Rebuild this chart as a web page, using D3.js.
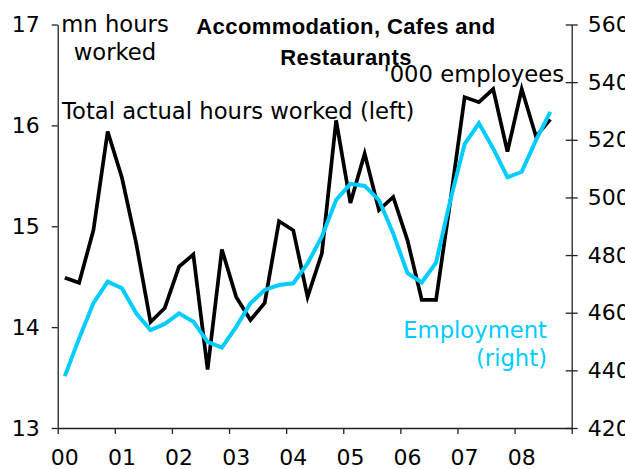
<!DOCTYPE html>
<html>
<head>
<meta charset="utf-8">
<script src="https://cdn.jsdelivr.net/npm/d3@7.9.0/dist/d3.min.js"></script>
<style>
  body { margin: 0; background: #fff; }
  svg { display: block; }
  text { font-family: "DejaVu Sans", Verdana, sans-serif; fill: #000; }
  .title { font-family: "Liberation Sans", Arial, sans-serif; font-weight: bold; }
</style>
</head>
<body>
<svg id="chart" width="625" height="469"></svg>
<script>
// quarterly, 2000 Q1 to 2008 Q3
const years = ['00', '01', '02', '03', '04', '05', '06', '07', '08'];
const hours = [14.49, 14.44, 14.96, 15.94, 15.48, 14.83, 14.05, 14.19, 14.60, 14.72, 13.58, 14.77,
  14.30, 14.07, 14.24, 15.05, 14.96, 14.30, 14.73, 16.05, 15.23, 15.72, 15.16, 15.29,
  14.86, 14.27, 14.27, 15.25, 16.28, 16.23, 16.36, 15.74, 16.36, 15.89, 16.06];
const employment = [438.0, 451.1, 463.3, 470.8, 468.5, 459.8, 454.0, 456.1, 459.8, 456.9, 449.9, 447.9,
  455.1, 463.3, 467.9, 469.6, 470.2, 477.1, 486.4, 499.1, 504.7, 504.0, 499.1, 487.5,
  473.7, 470.5, 477.4, 499.0, 518.5, 525.7, 517.0, 507.0, 508.9, 519.9, 529.7];
const leftTicks = [13, 14, 15, 16, 17];
const rightTicks = [420, 440, 460, 480, 500, 520, 540, 560];

const svg = d3.select('#chart');
const plotLeft = 57.7, plotRight = 571.7, plotTop = 24.5, plotBottom = 428;
const fs = 22.7;

const x = d3.scaleLinear().domain([0, years.length * 4]).range([plotLeft, plotRight]);
const yL = d3.scaleLinear().domain([13, 17]).range([plotBottom, plotTop]);
const yR = d3.scaleLinear().domain([420, 560]).range([plotBottom, plotTop]);

// axes
let gl = svg.append('g').attr('transform', `translate(${plotLeft},0)`)
  .call(d3.axisLeft(yL).tickValues(leftTicks).tickFormat(d3.format('d'))
    .tickSize(6).tickPadding(12).tickSizeOuter(0));
let gr = svg.append('g').attr('transform', `translate(${plotRight},0)`)
  .call(d3.axisRight(yR).tickValues(rightTicks).tickFormat(d3.format('d'))
    .tickSize(6).tickPadding(10).tickSizeOuter(0));
gr.selectAll('.tick line').attr('x1', -6);
let gb = svg.append('g').attr('transform', `translate(0,${plotBottom})`)
  .call(d3.axisBottom(x).tickValues(d3.range(0, years.length * 4 + 1, 4))
    .tickSize(6).tickFormat('').tickSizeOuter(0));

[gl, gr, gb].forEach((g) => {
  g.selectAll('path, line').attr('stroke', '#222').attr('stroke-width', 1.3);
  g.selectAll('text').attr('font-size', 22).attr('font-family', '"DejaVu Sans", Verdana, sans-serif').attr('fill', '#000');
});

svg.append('g').selectAll('text').data(years).join('text')
  .attr('x', (d, i) => x(i * 4 + 0.5))
  .attr('y', 465)
  .attr('text-anchor', 'middle')
  .attr('font-size', 22)
  .text((d) => d);

// lines
const lineL = d3.line().x((d, i) => x(i + 0.5)).y((d) => yL(d));
const lineR = d3.line().x((d, i) => x(i + 0.5)).y((d) => yR(d));

svg.append('path').datum(hours).attr('d', lineL)
  .attr('fill', 'none').attr('stroke', '#000').attr('stroke-width', 3.7).attr('stroke-linejoin', 'miter');
svg.append('path').datum(employment).attr('d', lineR)
  .attr('fill', 'none').attr('stroke', '#00ccff').attr('stroke-width', 4).attr('stroke-linejoin', 'miter');

// labels
svg.append('text').attr('class', 'title').attr('x', 346).attr('y', 34)
  .attr('text-anchor', 'middle').attr('font-size', 22).attr('letter-spacing', 0.4)
  .text('Accommodation, Cafes and');
svg.append('text').attr('class', 'title').attr('x', 346).attr('y', 65)
  .attr('text-anchor', 'middle').attr('font-size', 22).attr('letter-spacing', 0.4)
  .text('Restaurants');

svg.append('text').attr('x', 115).attr('y', 32).attr('text-anchor', 'middle').attr('font-size', fs).text('mn hours');
svg.append('text').attr('x', 115).attr('y', 60).attr('text-anchor', 'middle').attr('font-size', fs).text('worked');
svg.append('text').attr('x', 62).attr('y', 119).attr('font-size', fs).text('Total actual hours worked (left)');
svg.append('text').attr('x', 564).attr('y', 82).attr('text-anchor', 'end').attr('font-size', fs).text("'000 employees");
svg.append('text').attr('x', 547).attr('y', 338).attr('text-anchor', 'end').attr('font-size', fs)
  .style('fill', '#00ccff').text('Employment');
svg.append('text').attr('x', 547).attr('y', 366).attr('text-anchor', 'end').attr('font-size', fs)
  .style('fill', '#00ccff').text('(right)');
</script>
</body>
</html>
